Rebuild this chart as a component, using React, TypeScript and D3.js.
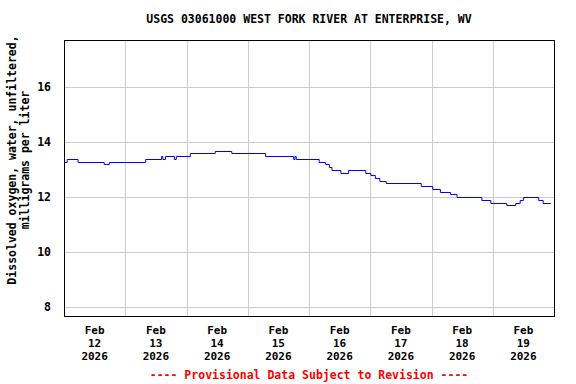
import * as d3 from 'd3';

// change points of the 15-minute record (value holds until the next time)
const stepTimes = [
  '2026-02-12T00:00', '2026-02-12T01:15', '2026-02-12T05:30', '2026-02-12T15:45', '2026-02-12T17:45',
  '2026-02-13T08:00', '2026-02-13T14:15', '2026-02-13T14:45', '2026-02-13T15:45', '2026-02-13T19:15',
  '2026-02-13T20:00', '2026-02-14T01:30', '2026-02-14T11:15', '2026-02-14T17:45', '2026-02-15T07:00',
  '2026-02-15T18:00', '2026-02-15T18:30', '2026-02-15T19:00', '2026-02-16T04:00', '2026-02-16T06:30',
  '2026-02-16T08:00', '2026-02-16T09:00', '2026-02-16T12:30', '2026-02-16T15:30', '2026-02-16T22:15',
  '2026-02-17T00:15', '2026-02-17T02:00', '2026-02-17T03:45', '2026-02-17T06:15', '2026-02-17T20:00',
  '2026-02-18T00:30', '2026-02-18T03:30', '2026-02-18T07:30', '2026-02-18T10:00', '2026-02-18T19:45',
  '2026-02-18T23:15', '2026-02-19T05:30', '2026-02-19T09:00', '2026-02-19T10:45', '2026-02-19T12:00',
  '2026-02-19T18:00', '2026-02-19T19:45', '2026-02-19T22:45'
];
const oxygen = [
  13.3, 13.4, 13.3, 13.2, 13.3,
  13.4, 13.5, 13.4, 13.5, 13.4,
  13.5, 13.6, 13.7, 13.6, 13.5,
  13.4, 13.5, 13.4, 13.3, 13.2,
  13.1, 13.0, 12.9, 13.0, 12.9,
  12.8, 12.7, 12.6, 12.5, 12.4,
  12.3, 12.2, 12.1, 12.0, 11.9,
  11.8, 11.7, 11.8, 11.9, 12.0,
  11.9, 11.8, 11.8
];
const yTicks = [8, 10, 12, 14, 16];
const dayTicks = ['2026-02-12', '2026-02-13', '2026-02-14', '2026-02-15', '2026-02-16', '2026-02-17', '2026-02-18', '2026-02-19'];

const title = 'USGS 03061000 WEST FORK RIVER AT ENTERPRISE, WV';
const yTitle = ['Dissolved oxygen, water, unfiltered,', 'milligrams per liter'];
const footer = '---- Provisional Data Subject to Revision ----';

const W = 576;
const H = 384;
const m = { left: 64, right: 554, top: 40, bottom: 316 };
const font = "'DejaVu Sans Mono', monospace";

const parseT = d3.timeParse('%Y-%m-%dT%H:%M');
const parseD = d3.timeParse('%Y-%m-%d');

export default function App() {
  const x = d3
    .scaleTime()
    .domain([parseD('2026-02-12') as Date, parseD('2026-02-20') as Date])
    .range([m.left, m.right]);
  const y = d3.scaleLinear().domain([7.68, 17.72]).range([m.bottom, m.top]);

  const pts = stepTimes.map((t, i) => ({ t: parseT(t) as Date, v: oxygen[i] }));
  const line = d3
    .line<{ t: Date; v: number }>()
    .x((d) => x(d.t))
    .y((d) => Math.round(y(d.v)) + 0.5)
    .curve(d3.curveStepAfter);

  const days = dayTicks.map((d) => parseD(d) as Date);
  const fmtMon = d3.timeFormat('%b');
  const fmtDay = d3.timeFormat('%d');
  const fmtYr = d3.timeFormat('%Y');

  return (
    <svg
      width={W}
      height={H}
      style={{ position: 'absolute', left: 0, top: 0, background: '#fff' }}
      fontFamily={font}
      fontWeight="bold"
      fontSize={11.5}
    >
      <rect width={W} height={H} fill="#fff" />
      <text x={(m.left + m.right) / 2} y={23} textAnchor="middle">
        {title}
      </text>

      <g stroke="#cccccc" strokeWidth={1} shapeRendering="crispEdges">
        {yTicks.map((t) => (
          <line key={t} x1={m.left} x2={m.right} y1={Math.round(y(t)) + 0.5} y2={Math.round(y(t)) + 0.5} />
        ))}
        {days.slice(1).map((d, i) => (
          <line key={i} x1={Math.round(x(d)) + 0.5} x2={Math.round(x(d)) + 0.5} y1={m.top} y2={m.bottom} />
        ))}
      </g>

      <path d={line(pts) ?? ''} fill="none" stroke="#0000ff" strokeWidth={1} />

      <rect
        x={m.left + 0.5}
        y={m.top + 0.5}
        width={m.right - m.left}
        height={m.bottom - m.top}
        fill="none"
        stroke="#000"
        strokeWidth={1.5}
        shapeRendering="crispEdges"
      />

      {yTicks.map((t) => (
        <text key={t} x={51} y={y(t)} dy="0.35em" textAnchor="end">
          {t}
        </text>
      ))}

      {days.map((d, i) => {
        const cx = x(d3.timeHour.offset(d, 12));
        return (
          <text key={i} x={cx} textAnchor="middle" fontSize={11}>
            <tspan x={cx} y={334}>{fmtMon(d)}</tspan>
            <tspan x={cx} y={347}>{fmtDay(d)}</tspan>
            <tspan x={cx} y={360}>{fmtYr(d)}</tspan>
          </text>
        );
      })}

      <g transform="translate(0,160) rotate(-90)">
        <text x={0} y={16} textAnchor="middle">{yTitle[0]}</text>
        <text x={0} y={29} textAnchor="middle">{yTitle[1]}</text>
      </g>

      <text x={(m.left + m.right) / 2} y={379} textAnchor="middle" fill="#ff0000">
        {footer}
      </text>
    </svg>
  );
}
